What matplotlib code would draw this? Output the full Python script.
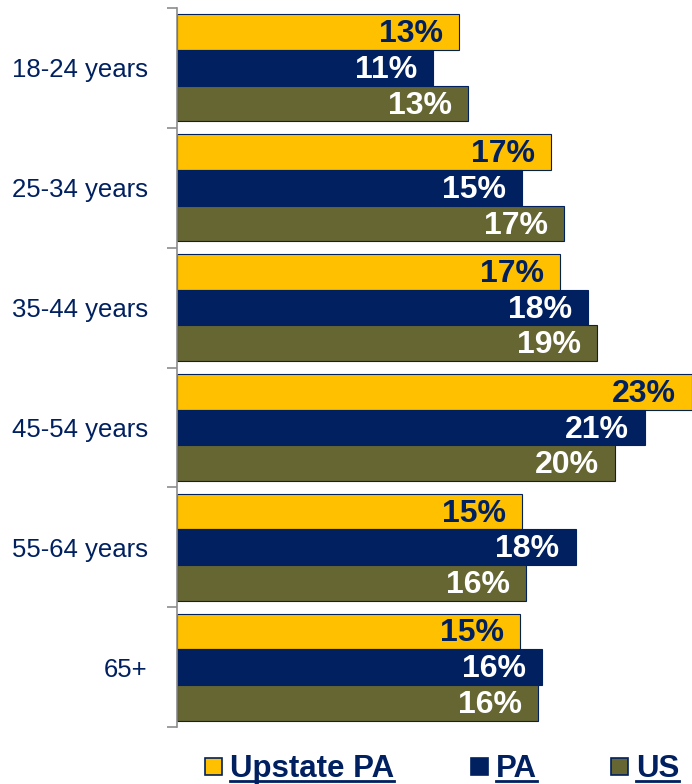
import matplotlib
matplotlib.use('Agg')
import matplotlib.pyplot as plt
from matplotlib.lines import Line2D
from matplotlib.patches import Rectangle
import numpy as np

# age groups, top to bottom
ages = ['18-24 years', '25-34 years', '35-44 years', '45-54 years', '55-64 years', '65+']
upstate = [12.6, 16.7, 17.1, 23.0, 15.4, 15.3]
pa = [11.45, 15.4, 18.35, 20.9, 17.8, 16.3]
us = [13.0, 17.3, 18.75, 19.55, 15.6, 16.1]
series_names = ['Upstate PA', 'PA', 'US']

YELLOW = '#FFC000'
NAVY = '#002060'
OLIVE = '#666633'

W, H = 692, 784
fig = plt.figure(figsize=(W / 100, H / 100), dpi=100)
ax = fig.add_axes([177 / W, 57 / H, 1 - 177 / W, (727 - 8) / H])

y = np.arange(len(ages))
bh = 0.2977
series = [(upstate, YELLOW, NAVY), (pa, NAVY, 'white'), (us, OLIVE, 'white')]
for k, (vals, col, tcol) in enumerate(series):
    pos = y + (k - 1) * bh
    ax.barh(pos, vals, height=bh, color=col, edgecolor=NAVY, linewidth=0.8)
    for p, v in zip(pos, vals):
        ax.annotate('{:.0f}%'.format(v), xy=(v, p), xytext=(-11.5, -1.5),
                    textcoords='offset points', ha='right', va='center',
                    fontsize=23, fontweight='bold', color=tcol,
                    family=['Liberation Sans', 'DejaVu Sans'])

ax.set_xlim(0, 23.0)
ax.set_ylim(len(ages) - 0.5, -0.5)
ax.set_xticks([])
ax.set_yticks(y)
ax.set_yticklabels(ages, fontsize=18.5, color=NAVY,
                   family=['Liberation Sans', 'DejaVu Sans'])
ax.set_yticks(np.arange(-0.5, len(ages)), minor=True)
ax.tick_params(axis='y', which='major', length=0, pad=21)
ax.tick_params(axis='y', which='minor', length=7.2, width=1.2, color='#8c8c8c')
for s in ['top', 'right', 'bottom']:
    ax.spines[s].set_visible(False)
ax.spines['left'].set_color('#8c8c8c')
ax.spines['left'].set_linewidth(1.2)

# legend at the bottom, underlined labels
leg_x = [205, 471, 611]
base_y = 7 / H
texts = []
for name, col, x0 in zip(series_names, [YELLOW, NAVY, OLIVE], leg_x):
    fig.add_artist(Rectangle((x0 / W, 9 / H), 17 / W, 17 / H, facecolor=col,
                             edgecolor=NAVY, linewidth=1.2, transform=fig.transFigure))
    t = fig.text((x0 + 25) / W, base_y, name, ha='left', va='baseline',
                 fontsize=22.5, fontweight='bold', color=NAVY,
                 family=['Liberation Sans', 'DejaVu Sans'])
    texts.append(t)

fig.canvas.draw()
r = fig.canvas.get_renderer()
for t in texts:
    bb = t.get_window_extent(r)
    fig.add_artist(Line2D([bb.x0 / W, bb.x1 / W], [3 / H, 3 / H], color=NAVY,
                          linewidth=2, transform=fig.transFigure))

fig.savefig('out.png', dpi=100)
